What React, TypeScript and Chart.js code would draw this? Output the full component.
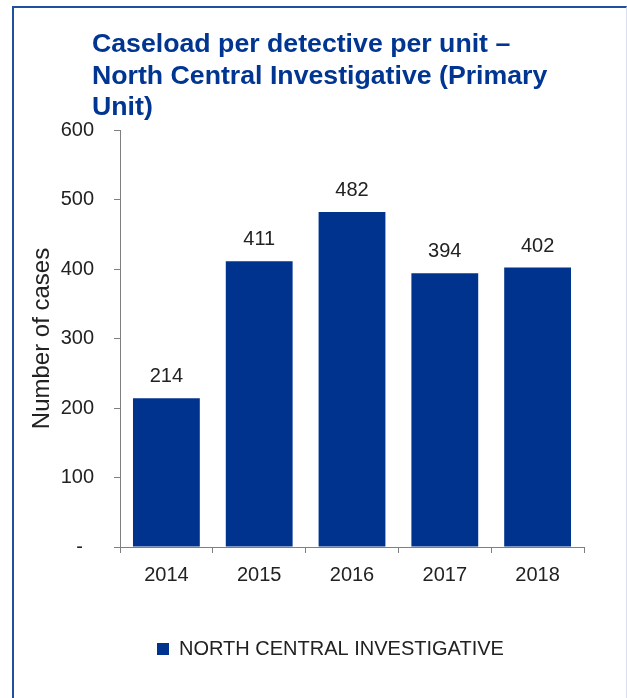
import React, { useEffect, useRef } from "react";
import { Chart, registerables } from "chart.js";

Chart.register(...registerables);

const titleLines = [
  "Caseload per detective per unit \u2013",
  "North Central Investigative (Primary",
  "Unit)",
];
const categories = ["2014", "2015", "2016", "2017", "2018"];
const seriesName = "NORTH CENTRAL INVESTIGATIVE";
const caseloads = [214, 411, 482, 394, 402];
const yTicks = [0, 100, 200, 300, 400, 500, 600];
const yTitle = "Number of cases";

const BAR_COLOR = "#00338D";
const TEXT_COLOR = "#222222";
const AXIS_COLOR = "#7f7f7f";
const FONT = "'Liberation Sans', Arial, Helvetica, sans-serif";

const valueLabels = {
  id: "valueLabels",
  afterDatasetsDraw(chart: any) {
    const ctx = chart.ctx;
    const meta = chart.getDatasetMeta(0);
    const data = chart.data.datasets[0].data;
    ctx.save();
    ctx.font = `20px ${FONT}`;
    ctx.fillStyle = TEXT_COLOR;
    ctx.textAlign = "center";
    ctx.textBaseline = "alphabetic";
    meta.data.forEach((bar: any, i: number) => {
      ctx.fillText(String(data[i]), bar.x, bar.y - 16);
    });
    ctx.restore();
  },
};

export default function App() {
  const canvasRef = useRef<HTMLCanvasElement | null>(null);

  useEffect(() => {
    if (!canvasRef.current) return;
    const chart = new Chart(canvasRef.current, {
      type: "bar",
      data: {
        labels: categories,
        datasets: [
          {
            label: seriesName,
            data: caseloads,
            backgroundColor: BAR_COLOR,
            borderWidth: 0,
            categoryPercentage: 1,
            barPercentage: 0.72,
          },
        ],
      },
      options: {
        animation: false,
        responsive: false,
        layout: { padding: { top: 130, left: 24, right: 43, bottom: 29 } },
        plugins: {
          title: { display: false },
          tooltip: { enabled: false },
          legend: {
            display: true,
            position: "bottom",
            align: "start",
            fullSize: false,
            labels: {
              boxWidth: 12,
              boxHeight: 12,
              padding: 37,
              color: TEXT_COLOR,
              font: { family: FONT, size: 20 },
            },
          },
        },
        scales: {
          x: {
            offset: true,
            grid: {
              offset: true,
              drawOnChartArea: false,
              drawTicks: true,
              tickLength: 6,
              color: AXIS_COLOR,
            },
            border: { display: true, color: AXIS_COLOR, width: 1 },
            ticks: {
              color: TEXT_COLOR,
              padding: 10,
              font: { family: FONT, size: 20 },
            },
            afterFit: (scale: any) => {
              scale.height = 55;
            },
          },
          y: {
            min: 0,
            max: 600,
            afterBuildTicks: (scale: any) => {
              scale.ticks = yTicks.map((v) => ({ value: v }));
            },
            grid: {
              drawOnChartArea: false,
              drawTicks: true,
              tickLength: 6,
              color: AXIS_COLOR,
            },
            border: { display: true, color: AXIS_COLOR, width: 1 },
            ticks: {
              color: TEXT_COLOR,
              padding: 20,
              font: { family: FONT, size: 20 },
              callback: (v: any) => (Number(v) === 0 ? "-  " : String(v)),
            },
            title: {
              display: true,
              text: yTitle,
              color: TEXT_COLOR,
              font: { family: FONT, size: 24 },
              padding: { top: 4, bottom: 4 },
            },
            afterFit: (scale: any) => {
              scale.width = 96;
            },
          },
        },
      },
      plugins: [valueLabels],
    });
    return () => chart.destroy();
  }, []);

  return (
    <div style={{ position: "absolute", left: 0, top: 0, width: 627, height: 698, background: "#fff", overflow: "hidden" }}>
      <div
        style={{
          position: "absolute",
          left: 12,
          top: 6,
          width: 612,
          height: 700,
          borderTop: "2px solid #1f4fa0",
          borderLeft: "2px solid #1f4fa0",
          borderRight: "1px solid #d8dff0",
        }}
      />
      <canvas ref={canvasRef} width={627} height={698} style={{ position: "absolute", left: 0, top: 0 }} />
      <div
        style={{
          position: "absolute",
          left: 92,
          top: 28,
          fontFamily: FONT,
          fontWeight: "bold",
          fontSize: 26.7,
          lineHeight: "31.5px",
          color: "#003591",
          whiteSpace: "nowrap",
        }}
      >
        {titleLines.map((t, i) => (
          <div key={i}>{t}</div>
        ))}
      </div>
    </div>
  );
}
